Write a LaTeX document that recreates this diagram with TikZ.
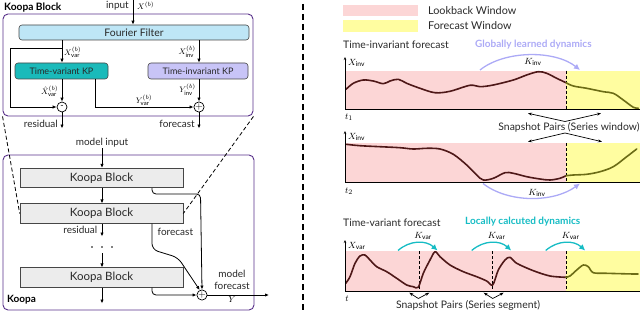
\documentclass[tikz,border=0pt]{standalone}
\usepackage{fontspec}
\setmainfont{Lato}
\usetikzlibrary{arrows.meta,calc}
\definecolor{kpurple}{RGB}{88,48,138}
\definecolor{ffblue}{RGB}{190,230,246}
\definecolor{tvteal}{RGB}{26,186,186}
\definecolor{tilav}{RGB}{200,196,247}
\definecolor{kbgray}{RGB}{236,236,236}
\definecolor{bord}{RGB}{70,70,70}
\definecolor{txt}{RGB}{40,40,40}
\definecolor{lpink}{RGB}{252,214,214}
\definecolor{lyellow}{RGB}{255,253,160}
\definecolor{cdark}{RGB}{78,24,24}
\definecolor{colive}{RGB}{108,108,22}
\definecolor{arclav}{RGB}{172,170,246}
\definecolor{arcteal}{RGB}{22,188,196}
\tikzset{
  outerbox/.style={draw=kpurple, line width=0.9pt, rounded corners=5pt, inner sep=0pt},
  fbox/.style={draw=bord, line width=0.6pt, rounded corners=3pt, inner sep=0pt, text=txt},
  kbbox/.style={draw=bord, line width=0.6pt, fill=kbgray, inner sep=0pt, minimum width=163pt, minimum height=19.5pt, text=txt, font=\fontsize{11.5}{13}\selectfont},
  opcirc/.style={circle, draw=black, line width=0.7pt, minimum size=10pt, inner sep=0pt, fill=white},
  arr/.style={line width=0.8pt, -{Latex[length=4pt,width=3.4pt]}},
  lbl/.style={text=txt, inner sep=0pt, font=\fontsize{10}{11}\selectfont},
  sml/.style={inner sep=0pt, font=\fontsize{8}{9}\selectfont},
  curved/.style={line width=1.6pt, line cap=round, line join=round},
  sarr/.style={line width=0.7pt, -{Stealth[length=4pt,width=3pt]}},
  rtxt/.style={inner sep=0pt, text=txt, font=\fontsize{10.4}{12}\selectfont},
}
\begin{document}
\begin{tikzpicture}[x=1pt,y=-1pt, font=\fontsize{10}{11}\selectfont]
\useasboundingbox (0,0) rectangle (640,313);

% ---------- Koopa Block (top-left) ----------
\node[anchor=west, inner sep=0pt, font=\fontsize{10.2}{11}\bfseries] (kbt) at (4,7.5) {Koopa Block};
\node[outerbox, minimum width=250pt, minimum height=102pt] (kbo) at (128,65) {};
\node[fbox, fill=ffblue, minimum width=230pt, minimum height=15pt, font=\fontsize{10.4}{11}\selectfont] (ff) at (134,32.5) {Fourier Filter};
\node[fbox, fill=tvteal, minimum width=93pt, minimum height=16pt, font=\fontsize{9}{10}\selectfont] (tv) at (61.5,71) {Time-variant KP};
\node[fbox, fill=tilav, minimum width=100pt, minimum height=16pt, font=\fontsize{9}{10}\selectfont] (ti) at (198,71) {Time-invariant KP};
\node[opcirc] (mi) at (62,107) {\raisebox{1pt}{\fontsize{9}{9}\selectfont -}};
\node[opcirc] (pl) at (199,107) {$+$};

\coordinate (inp) at (133,0);
\draw[arr] (inp) -- (inp |- ff.north);
\node[lbl, anchor=east] (intxt) at (129,6) {input};
\node[sml, anchor=west] (inx) at (137,5.5) {$X^{(b)}$};

\draw[arr] (ff.south -| mi) -- (tv.north -| mi);
\node[sml, anchor=west] (xv) at (64,52) {$X^{(b)}_{\mathrm{var}}$};
\coordinate (br) at (62,48);
\coordinate (lb) at (10,48);
\draw[arr] (br) -- (lb) |- (mi.west);

\draw[arr] (ff.south -| pl) -- (ti.north -| pl);
\node[sml, anchor=east] (xi) at (196,52) {$X^{(b)}_{\mathrm{inv}}$};

\draw[arr] (tv.south -| mi) -- (mi.north);
\node[sml, anchor=east] (xh) at (58.5,91) {$\hat X^{(b)}_{\mathrm{var}}$};
\coordinate (yv) at (95,79);
\draw[arr] (yv) |- (pl.west);
\node[sml] (yvl) at (144,100) {$Y^{(b)}_{\mathrm{var}}$};
\draw[arr] (ti.south -| pl) -- (pl.north);
\node[sml, anchor=east] (yil) at (196,90) {$Y^{(b)}_{\mathrm{inv}}$};

\coordinate (resend) at (62,128.5);
\coordinate (forend) at (199,128.5);
\draw[arr] (mi.south) -- (resend);
\draw[arr] (pl.south) -- (forend);
\node[lbl, anchor=east] (restxt) at (58,124) {residual};
\node[lbl, anchor=east] (fortxt) at (195,124) {forecast};

% ---------- Koopa (bottom-left) ----------
\node[lbl] (mitxt) at (102,143) {model input};
\node[outerbox, minimum width=251pt, minimum height=155pt] (ko) at (128.5,232.5) {};
\node[anchor=west, inner sep=0pt, font=\fontsize{10}{11}\bfseries] (kot) at (7,300) {Koopa};
\node[kbbox] (kb1) at (101.5,178) {Koopa Block};
\node[kbbox] (kb2) at (101.5,213.5) {Koopa Block};
\node[kbbox] (kb3) at (101.5,277.5) {Koopa Block};
\node[opcirc] (op) at (202,295) {$+$};

\coordinate (mis) at (102,148);
\draw[arr] (mis) -- (kb1.north -| mis);
\draw[arr] (kb1.south -| mis) -- (kb2.north -| mis);
\coordinate (r2) at (102,236.5);
\draw[arr] (kb2.south -| mis) -- (r2);
\node[lbl, anchor=east] (res2) at (97.5,230) {residual};
\foreach \dd in {92,102,112} \fill (\dd,247) circle (0.9pt);
\coordinate (d2) at (102,253);
\draw[arr] (d2) -- (kb3.north -| mis);
\coordinate (e3) at (102,303.5);
\draw[arr] (kb3.south -| mis) -- (e3);

\coordinate (f1c) at (200.5,194);
\draw[arr, rounded corners=4pt] ([xshift=50.5pt]kb1.south) |- (f1c) -- (op.north);
\draw[arr, rounded corners=6pt] ([xshift=50.5pt]kb2.south) -- ++(0,26) -- ++(26,8) -- (op.115);
\draw[arr, rounded corners=4pt] ([xshift=50.5pt]kb3.south) |- (op.west);
\node[lbl, anchor=west] (for2) at (157.5,232) {forecast};
\coordinate (yout) at (269,295);
\draw[arr] (op.east) -- (yout);
\node[lbl] (mf1) at (232,273.5) {model};
\node[lbl] (mf2) at (232,285.5) {forecast};
\node[sml, font=\fontsize{9}{10}\selectfont] (yl) at (232,299.5) {$Y$};

% zoom dashed lines
\draw[line width=0.8pt, dash pattern=on 4pt off 2.5pt] (kbo.south west) -- (kb2.west);
\draw[line width=0.8pt, dash pattern=on 4pt off 2.5pt] (kbo.south east) -- (kb2.east);

% separator
\draw[line width=1.1pt, dash pattern=on 6pt off 4pt] (303,4) -- (303,311);

% ---------- Right: legend ----------
\fill[lpink] (343,5) rectangle (418,16.5);
\fill[lyellow] (343,20.5) rectangle (418,32);
\node[anchor=west, inner sep=0pt, text=txt, font=\fontsize{10.8}{12}\selectfont] (lbw) at (428,10.5) {Lookback Window};
\node[anchor=west, inner sep=0pt, text=txt, font=\fontsize{10.8}{12}\selectfont] (fcw) at (428,26) {Forecast Window};

% ---------- Chart 1 ----------
\node[rtxt, anchor=west] (tif) at (343,45) {Time-invariant forecast};
\node[anchor=west, inner sep=0pt, text=arclav, font=\fontsize{10}{11}\bfseries] (gld) at (475,45) {Globally learned dynamics};
\fill[lpink] (345,70.7) rectangle (566,109.5);
\fill[lyellow] (566,70.7) rectangle (640,109.5);
\draw[line width=0.7pt, dash pattern=on 3pt off 2pt] (566,70.7) -- (566,109.5);
\draw[curved, cdark] plot[smooth, tension=0.55] coordinates {(346,89.3) (353.3,83.3) (363.3,80) (373.3,81) (383.3,83.7) (390,81) (398.3,79.3) (406.7,83.3) (420,88.3) (435,92.7) (450,91.3) (470,85.3) (480,86.7) (493.3,85) (513.3,80) (526.7,75) (538.3,71.7) (546.7,73.3) (556.7,78.3) (566,82.7)};
\draw[curved, colive] plot[smooth, tension=0.55] coordinates {(566,82.7) (573.3,86) (586.7,88.3) (603.3,91.7) (613.3,93.3) (623.3,100) (633.3,107.3) (638.3,108.3)};
\draw[line width=0.9pt] (345,109.5) -- (640,109.5);
\draw[line width=0.7pt, -{Stealth[length=3pt,width=2.5pt]}] (345,109.5) -- (345,57);
\node[sml, anchor=west, font=\fontsize{9.5}{10}\selectfont] (xi1) at (348,63) {$X_{\mathrm{inv}}$};
\node[sml, font=\fontsize{9.5}{10}\selectfont] (t1) at (349,117) {$t_1$};
\draw[line width=1.3pt, arclav, -{Latex[length=6pt,width=6pt]}] (480,70) .. controls (505,50) and (555,50) .. (580,70);
\node[sml, font=\fontsize{9.5}{10}\selectfont] (ki1) at (533,62) {$K_{\mathrm{inv}}$};

% snapshot pairs (window)
\node[rtxt] (spw) at (569,127) {Snapshot Pairs (Series window)};
\coordinate (sa) at (565,121.5);
\coordinate (sb) at (565,133);
\coordinate (sa1) at (528,113.3);
\coordinate (sa2) at (601,113.3);
\coordinate (sb1) at (528,141.7);
\coordinate (sb2) at (602,141.7);
\draw[sarr] (sa) -- (sa1);
\draw[sarr] (sa) -- (sa2);
\draw[sarr] (sb) -- (sb1);
\draw[sarr] (sb) -- (sb2);

% ---------- Chart 2 ----------
\fill[lpink] (345,143.3) rectangle (566,182.3);
\fill[lyellow] (566,143.3) rectangle (640,182.3);
\draw[line width=0.7pt, dash pattern=on 3pt off 2pt] (566,143.3) -- (566,182.3);
\draw[curved, cdark] plot[smooth, tension=0.55] coordinates {(346,144.3) (360,145.7) (380,146.7) (400,147.7) (413.3,149) (426.7,148.3) (440,149) (453.3,154.3) (466.7,165) (476.7,175) (483.3,180) (493.3,178.3) (505,172.7) (513.3,173.3) (526.7,176.7) (540,179) (550,180) (560,178.3) (566,175.7)};
\draw[curved, colive] plot[smooth, tension=0.55] coordinates {(566,175.7) (573.3,175) (586.7,174.3) (600,171.7) (613.3,166.7) (626.7,156.7) (636.7,149)};
\draw[line width=0.9pt] (345,182.3) -- (640,182.3);
\draw[line width=0.7pt, -{Stealth[length=3pt,width=2.5pt]}] (345,182.3) -- (345,131);
\node[sml, anchor=west, font=\fontsize{9.5}{10}\selectfont] (xi2) at (348,137) {$X_{\mathrm{inv}}$};
\node[sml, font=\fontsize{9.5}{10}\selectfont] (t2) at (349,191) {$t_2$};
\draw[line width=1.3pt, arclav, -{Latex[length=6pt,width=6pt]}] (483,183.5) .. controls (508,203) and (553,203) .. (580,183.5);
\node[sml, font=\fontsize{9.5}{10}\selectfont] (ki2) at (537,193) {$K_{\mathrm{inv}}$};

% ---------- Chart 3 ----------
\node[rtxt, anchor=west] (tvf) at (343,223) {Time-variant forecast};
\node[anchor=west, inner sep=0pt, text=arcteal, font=\fontsize{10}{11}\bfseries] (lcd) at (465,222) {Locally calcuted dynamics};
\fill[lpink] (345,251) rectangle (566,291.5);
\fill[lyellow] (566,251) rectangle (640,291.5);
\foreach \xx in {419,492.7,566}
  \draw[line width=0.7pt, dash pattern=on 3pt off 2pt] (\xx,251) -- (\xx,291.5);
\draw[curved, cdark] plot[smooth, tension=0.5] coordinates {(345.7,283.3) (350,276.7) (355,263.3) (360,256) (365,255) (370,260) (376.7,266.7) (386.7,271.7) (396.7,278.3) (406.7,285) (413.3,286.7) (418.3,287.3) (423.3,273.3) (430,260) (435,251.7) (440,256.7) (450,265) (463.3,271.7) (476.7,276.7) (486.7,281) (492.7,285) (498.3,270) (505,260) (510,257.3) (516.7,263.3) (533.3,270.7) (550,276) (565.7,277.3)};
\draw[curved, colive] plot[smooth, tension=0.5] coordinates {(565.7,277.3) (570,276) (576.7,270) (583.3,265) (588.3,266.7) (593.3,272.7) (606.7,273.3) (633.3,274) (638,274)};
\draw[line width=0.9pt] (345,291.5) -- (640,291.5);
\draw[line width=0.7pt, -{Stealth[length=3pt,width=2.5pt]}] (345,291.5) -- (345,240);
\node[sml, anchor=west, font=\fontsize{9.5}{10}\selectfont] (xv3) at (348,246) {$X_{\mathrm{var}}$};
\node[sml, font=\fontsize{9.5}{10}\selectfont] (t3) at (347,299) {$t$};
\foreach \dx/\nm in {0/a,73.7/b,147.7/c}{
  \draw[line width=1.3pt, arcteal, -{Latex[length=6pt,width=6pt]}] (398+\dx,250.5) .. controls (410+\dx,240) and (426+\dx,240) .. (437.5+\dx,250.5);
  \node[sml, font=\fontsize{9.5}{10}\selectfont] (kv\nm) at (423+\dx,236) {$K_{\mathrm{var}}$};
}
\node[rtxt] (sps) at (468,305) {Snapshot Pairs (Series segment)};
\coordinate (sc) at (418.3,298.5);
\coordinate (sc1) at (409.3,292.7);
\coordinate (sc2) at (429.3,292.7);
\coordinate (sd) at (492.7,298.5);
\coordinate (sd1) at (483.7,292.7);
\coordinate (sd2) at (503.7,292.7);
\draw[sarr] (sc) -- (sc1);
\draw[sarr] (sc) -- (sc2);
\draw[sarr] (sd) -- (sd1);
\draw[sarr] (sd) -- (sd2);
\end{tikzpicture}
\end{document}
